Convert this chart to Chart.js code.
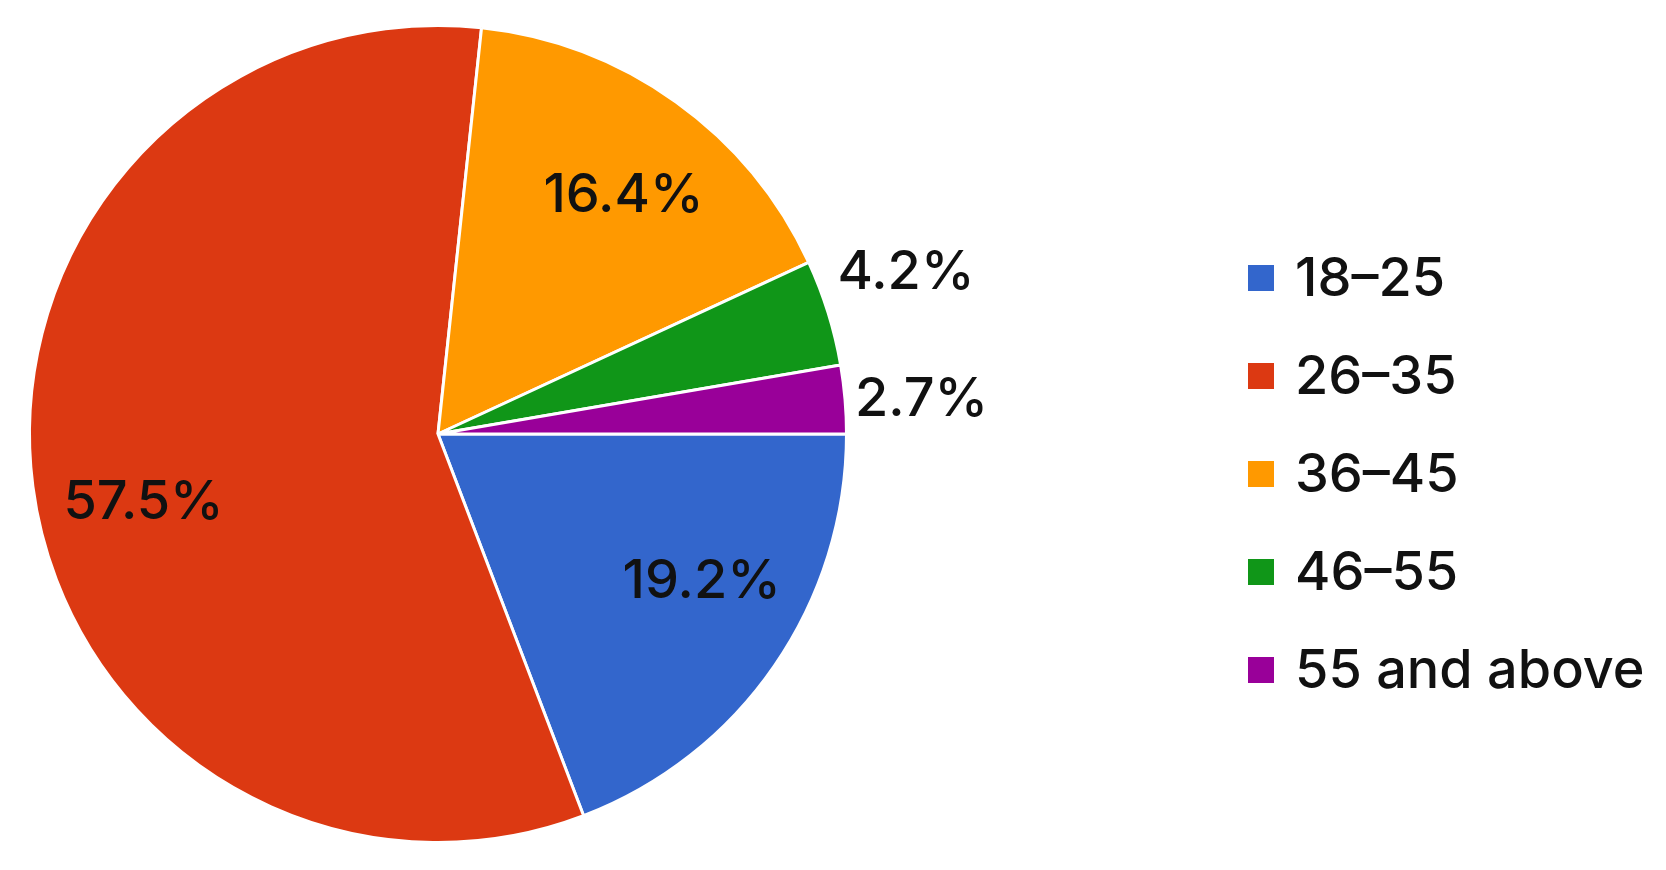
<!DOCTYPE html>
<html>
<head>
<meta charset="utf-8">
<script src="https://cdn.jsdelivr.net/npm/chart.js@4.4.1/dist/chart.umd.min.js"></script>
<style>
  html, body { margin: 0; padding: 0; background: #fff; }
  #wrap { width: 1666px; height: 870px; }
</style>
</head>
<body>
<div id="wrap"><canvas id="ageChart" width="1666" height="870"></canvas></div>
<script>
// Age group shares (percent)
const ageGroups = ['18–25', '26–35', '36–45', '46–55', '55 and above'];
const shares = [19.2, 57.5, 16.4, 4.2, 2.7];
const sliceColors = ['#3366cc', '#dc3912', '#ff9900', '#109618', '#990099'];

const FONT = '"Inter", "Noto Sans", sans-serif';
const FONT_SIZE = 54;
const TEXT_COLOR = '#111111';
// small angular nudges (deg) for inside labels, so text sits inside its slice
const labelNudge = [-5.3, -5.7, 2.2, 0, 0];

// -----------------------------
// Percent labels on / beside the slices
// -----------------------------
const sliceLabels = {
  id: 'sliceLabels',
  afterDatasetsDraw(chart) {
    const { ctx } = chart;
    const arcs = chart.getDatasetMeta(0).data;
    ctx.save();
    ctx.font = '500 ' + FONT_SIZE + 'px ' + FONT;
    ctx.fillStyle = TEXT_COLOR;
    ctx.textBaseline = 'middle';

    const outside = [];
    arcs.forEach((arc, i) => {
      const { x, y, startAngle, endAngle, outerRadius } = arc.getProps(['x', 'y', 'startAngle', 'endAngle', 'outerRadius'], true);
      const mid = (startAngle + endAngle) / 2;
      const text = shares[i].toFixed(1) + '%';
      if (shares[i] >= 10) {
        ctx.textAlign = 'center';
        const r = outerRadius * 0.74;
        const a = mid + labelNudge[i] * Math.PI / 180;
        ctx.fillText(text, x + r * Math.cos(a), y + r * Math.sin(a));
      } else {
        outside.push({
          text,
          x: x + (outerRadius + 10) * Math.cos(mid),
          y: y + outerRadius * Math.sin(mid)
        });
      }
    });

    // stack outside labels so they don't collide
    outside.sort((a, b) => b.y - a.y);
    for (let k = 1; k < outside.length; k++) {
      const prev = outside[k - 1];
      if (prev.y - outside[k].y < FONT_SIZE * 2.35) outside[k].y = prev.y - FONT_SIZE * 2.35;
    }
    ctx.textAlign = 'left';
    outside.forEach(o => ctx.fillText(o.text, o.x, o.y));
    ctx.restore();
  }
};

// -----------------------------
// Legend on the right
// -----------------------------
const sideLegend = {
  id: 'sideLegend',
  afterDraw(chart) {
    const { ctx } = chart;
    const left = 1248, top = 278, step = 98, box = 26;
    ctx.save();
    ctx.font = '500 ' + FONT_SIZE + 'px ' + FONT;
    ctx.textBaseline = 'middle';
    ctx.textAlign = 'left';
    chart.data.labels.forEach((label, i) => {
      const cy = top + i * step;
      ctx.fillStyle = sliceColors[i];
      ctx.fillRect(left, cy - box / 2, box, box);
      ctx.fillStyle = TEXT_COLOR;
      ctx.fillText(label, left + 47, cy + 2);
    });
    ctx.restore();
  }
};

new Chart(document.getElementById('ageChart'), {
  type: 'pie',
  data: {
    labels: ageGroups,
    datasets: [{
      data: shares,
      backgroundColor: sliceColors,
      borderColor: '#ffffff',
      borderWidth: 3
    }]
  },
  options: {
    responsive: false,
    animation: false,
    rotation: 90,
    layout: { padding: { left: 28, top: 24, right: 818, bottom: 26 } },
    plugins: {
      legend: { display: false },
      tooltip: { enabled: false }
    }
  },
  plugins: [sliceLabels, sideLegend]
});
</script>
</body>
</html>
